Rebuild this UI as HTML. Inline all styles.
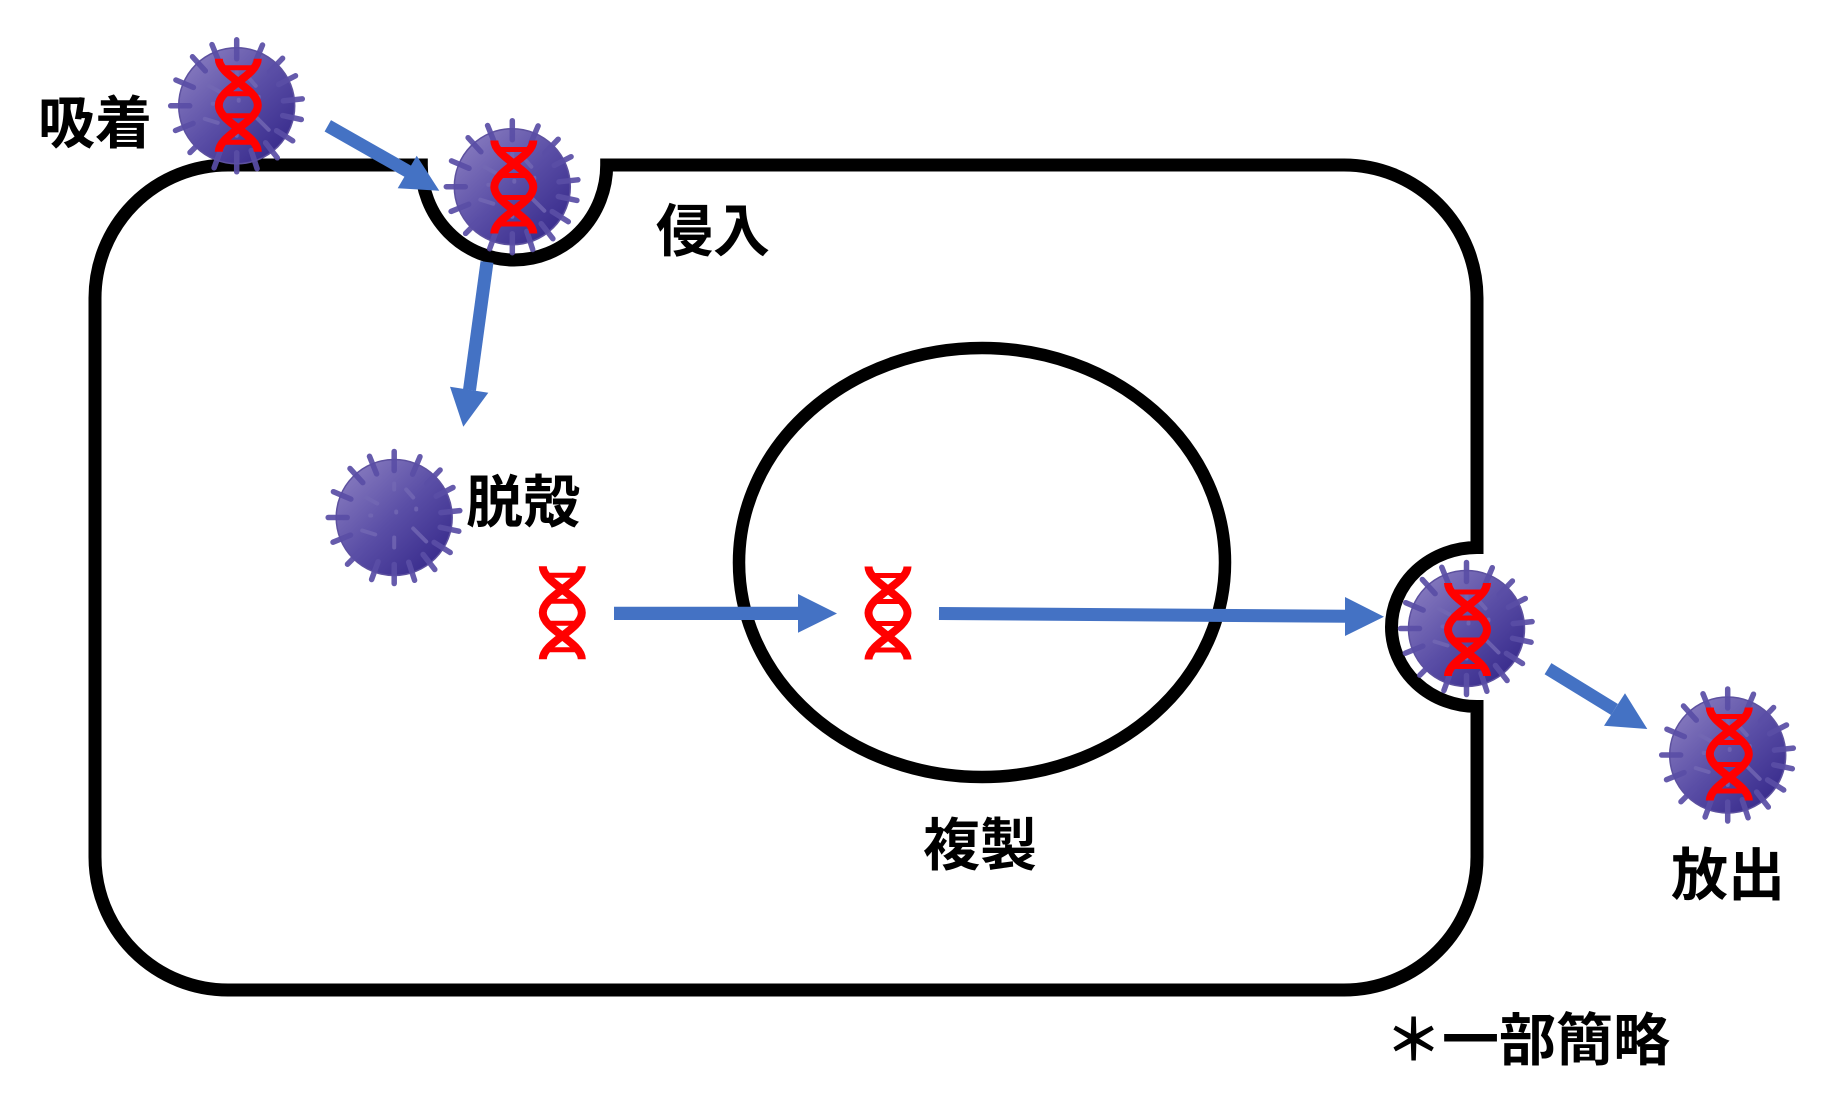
<!DOCTYPE html>
<html>
<head>
<meta charset="utf-8">
<style>
  html,body{margin:0;padding:0;background:#ffffff;}
  svg{display:block;}
  .lbl{font-family:"Liberation Sans","Noto Sans CJK JP",sans-serif;font-weight:700;font-size:57px;fill:#000;}
</style>
</head>
<body>
<svg width="1832" height="1113" viewBox="0 0 1832 1113" xmlns="http://www.w3.org/2000/svg">
  <defs>
    <linearGradient id="vg" x1="0.12" y1="0.1" x2="0.88" y2="0.9">
      <stop offset="0" stop-color="#8579be"/>
      <stop offset="0.5" stop-color="#5a4ea6"/>
      <stop offset="1" stop-color="#382b8c"/>
    </linearGradient>
    <g id="virus">
      <circle cx="0" cy="0" r="58" fill="url(#vg)" stroke="#5d519f" stroke-width="1.5"/>
      <g stroke="#5a4ea6" stroke-width="5.5" stroke-linecap="round" opacity="0.92">
        <line x1="-17.6" y1="-43.6" x2="-24.7" y2="-61.2"/>
        <line x1="0" y1="-47" x2="0" y2="-66"/>
        <line x1="18.4" y1="-43.3" x2="25.8" y2="-60.8"/>
        <line x1="32.7" y1="-33.8" x2="45.9" y2="-47.5"/>
        <line x1="41.9" y1="-21.3" x2="58.8" y2="-30.0"/>
        <line x1="46.7" y1="-4.9" x2="65.6" y2="-6.9"/>
        <line x1="46.0" y1="9.8" x2="64.6" y2="13.7"/>
        <line x1="39.9" y1="24.9" x2="56.0" y2="35.0"/>
        <line x1="28.9" y1="37.0" x2="40.6" y2="52.0"/>
        <line x1="14.5" y1="44.7" x2="20.4" y2="62.8"/>
        <line x1="0" y1="47" x2="0" y2="66"/>
        <line x1="-16.1" y1="44.2" x2="-22.6" y2="62.0"/>
        <line x1="-33.2" y1="33.2" x2="-46.7" y2="46.7"/>
        <line x1="-43.6" y1="17.6" x2="-61.2" y2="24.7"/>
        <line x1="-47" y1="0" x2="-66" y2="0"/>
        <line x1="-43.3" y1="-18.4" x2="-60.8" y2="-25.8"/>
        <line x1="-31.4" y1="-34.9" x2="-44.2" y2="-49.0"/>
      </g>
      <g stroke="#7368b4" stroke-width="4" stroke-linecap="round" opacity="0.8">
        <line x1="0" y1="-34" x2="0" y2="-28"/>
        <line x1="12" y1="-28" x2="19" y2="-20"/>
        <line x1="-28" y1="-20" x2="-17" y2="-14"/>
        <line x1="-24" y1="-2" x2="-23" y2="-2"/>
        <line x1="2" y1="-6" x2="2" y2="-5"/>
        <line x1="22" y1="-9" x2="22" y2="-8"/>
        <line x1="-32" y1="13" x2="-19" y2="17"/>
        <line x1="0" y1="20" x2="0" y2="30"/>
        <line x1="19" y1="11" x2="32" y2="24"/>
      </g>
    </g>
    <g id="dna">
      <g fill="none" stroke="#ff0000">
        <path d="M 19.5 -46.5 C 19.5 -29.6 -19.5 -16.9 -19.5 0 C -19.5 16.9 19.5 29.6 19.5 46.5" stroke-width="8"/>
        <path d="M -19.5 -46.5 C -19.5 -29.6 19.5 -16.9 19.5 0 C 19.5 16.9 -19.5 29.6 -19.5 46.5" stroke-width="8"/>
        <line x1="-16" y1="-37.5" x2="16" y2="-37.5" stroke-width="5"/>
        <line x1="-15" y1="-11.5" x2="15" y2="-11.5" stroke-width="5"/>
        <line x1="-15" y1="10.5" x2="15" y2="10.5" stroke-width="5"/>
        <line x1="-16" y1="37" x2="16" y2="37" stroke-width="5"/>
      </g>
    </g>
  </defs>

  <rect x="0" y="0" width="1832" height="1113" fill="#ffffff"/>

  <!-- Cell membrane -->
  <path d="M 606.7 165 H 1344 A 133 133 0 0 1 1477 298 V 547.5
           A 85.5 79.5 0 0 0 1391.5 627 A 85.5 79.5 0 0 0 1477 706.5
           V 857 A 133 133 0 0 1 1344 990 H 228 A 133 133 0 0 1 95 857 V 298
           A 133 133 0 0 1 228 165 H 421.3
           A 92.7 95 0 0 0 514 260 A 92.7 95 0 0 0 606.7 165 Z"
        fill="none" stroke="#000" stroke-width="13" stroke-linejoin="miter"/>

  <!-- Nucleus -->
  <ellipse cx="982" cy="562.5" rx="243" ry="214.5" fill="none" stroke="#000" stroke-width="12.5"/>

  <!-- Arrows -->
  <g fill="#4472c4" stroke="none">
    <line x1="327.8" y1="125.8" x2="410" y2="172.5" stroke="#4472c4" stroke-width="13"/>
    <polygon points="416.7,155.7 439.3,190.7 397.7,188.3"/>

    <line x1="487" y1="262" x2="469.5" y2="390" stroke="#4472c4" stroke-width="13"/>
    <polygon points="450,386.7 463.3,426.7 488.3,392.7"/>

    <line x1="614" y1="613.4" x2="800" y2="613.4" stroke="#4472c4" stroke-width="13.3"/>
    <polygon points="798,594 837,613.5 798,632.7"/>

    <line x1="939" y1="613.5" x2="1347" y2="616.3" stroke="#4472c4" stroke-width="13"/>
    <polygon points="1345,597 1384,616.7 1345,636"/>

    <line x1="1548" y1="668.7" x2="1614.5" y2="709.5" stroke="#4472c4" stroke-width="13"/>
    <polygon points="1625,693.3 1647.3,729 1604,725.7"/>
  </g>

  <!-- Viruses -->
  <use href="#virus" transform="translate(236.7,105.8)"/>
  <use href="#dna" transform="translate(238.3,105.3)"/>

  <use href="#virus" transform="translate(512.3,186.7)"/>
  <use href="#dna" transform="translate(513.8,187)"/>

  <use href="#virus" transform="translate(394.2,517.5)"/>

  <use href="#virus" transform="translate(1466.5,628.5)"/>
  <use href="#dna" transform="translate(1467.5,629.5)"/>

  <use href="#virus" transform="translate(1727.7,755)"/>
  <use href="#dna" transform="translate(1729.3,754)"/>

  <!-- Free DNA -->
  <use href="#dna" transform="translate(562.3,612.7)"/>
  <use href="#dna" transform="translate(888,613)"/>

  <!-- Labels -->
  <text class="lbl" x="38" y="143">吸着</text>
  <text class="lbl" x="656" y="251">侵入</text>
  <text class="lbl" x="466" y="522">脱殻</text>
  <text class="lbl" x="923" y="865">複製</text>
  <text class="lbl" x="1671" y="895">放出</text>
  <text class="lbl" x="1385" y="1060">＊一部簡略</text>
</svg>
</body>
</html>
